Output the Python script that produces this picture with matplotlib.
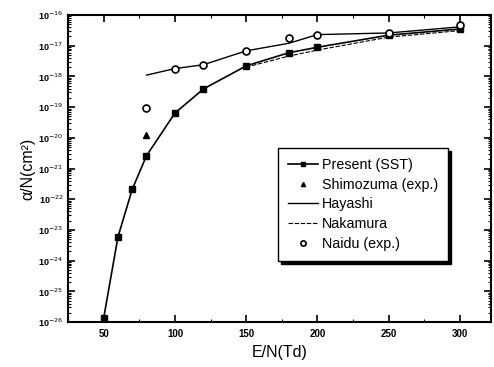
import matplotlib
matplotlib.use("Agg")
import matplotlib.pyplot as plt
from matplotlib.ticker import LogLocator, MultipleLocator, FixedLocator, NullFormatter
import numpy as np

plt.rcParams['font.family'] = ['Liberation Sans', 'DejaVu Sans']

# Present (SST)
sst_x = [50, 60, 70, 80, 100, 120, 150, 180, 200, 250, 300]
sst_y = [1.4e-26, 6e-24, 2.1e-22, 2.6e-21, 6.4e-20, 3.9e-19, 2.2e-18, 5.9e-18, 8.9e-18, 2.2e-17, 3.5e-17]
# Shimozuma (exp.)
shim_x = [80]
shim_y = [1.2e-20]
# Hayashi
hay_x = [80, 100, 120, 150, 180, 200, 250, 300]
hay_y = [1.1e-18, 1.8e-18, 2.4e-18, 6.8e-18, 1.2e-17, 2.3e-17, 2.6e-17, 4.1e-17]
# Nakamura
nak_x = [150, 180, 200, 250, 300]
nak_y = [2.0e-18, 4.6e-18, 7.2e-18, 1.9e-17, 3.1e-17]
# Naidu (exp.)
naidu_x = [80, 100, 120, 150, 180, 200, 250, 300]
naidu_y = [9.3e-20, 1.8e-18, 2.4e-18, 6.8e-18, 1.85e-17, 2.3e-17, 2.6e-17, 4.9e-17]

xticks = [50, 100, 150, 200, 250, 300]
yexp = list(range(-26, -15))

fig = plt.figure(figsize=(4.94, 3.67), dpi=100)
ax = fig.add_axes([0.138, 0.1226, 0.856, 0.8365])

ax.plot(sst_x, sst_y, '-', color='black', lw=1.2, marker='s', ms=4,
        mfc='black', mec='black', label='Present (SST)', zorder=4)
ax.plot(shim_x, shim_y, linestyle='none', marker='^', ms=4, color='black',
        label='Shimozuma (exp.)', zorder=5)
ax.plot(hay_x, hay_y, '-', color='black', lw=1.0, label='Hayashi', zorder=3)
ax.plot(nak_x, nak_y, linestyle=(0, (4, 1.5)), color='black', lw=0.8,
        label='Nakamura', zorder=3)
ax.plot(naidu_x, naidu_y, linestyle='none', marker='o', ms=5, mfc='white',
        mec='black', mew=1.2, label='Naidu (exp.)', zorder=6)

ax.set_yscale('log')
ax.set_xlim(25, 322)
ax.set_ylim(1e-26, 1e-16)

ax.xaxis.set_major_locator(FixedLocator(xticks))
ax.xaxis.set_minor_locator(MultipleLocator(25))
ax.set_xticklabels([str(v) for v in xticks])
ax.yaxis.set_major_locator(FixedLocator([10.0**e for e in yexp]))
ax.yaxis.set_minor_locator(LogLocator(base=10, subs=np.arange(2, 10), numticks=50))
ax.yaxis.set_minor_formatter(NullFormatter())
ax.set_yticklabels(['10$^{%d}$' % e for e in yexp])

ax.tick_params(which='both', direction='in', top=True, right=True)
ax.tick_params(which='major', length=5, width=1.2, labelsize=6.5)
ax.tick_params(which='minor', length=2.5, width=0.8)
ax.tick_params(axis='x', which='major', labelsize=7, pad=5)
for lab in ax.get_xticklabels() + ax.get_yticklabels():
    lab.set_fontweight('bold')
for s in ax.spines.values():
    s.set_linewidth(1.5)

ax.set_xlabel('E/N(Td)', fontsize=11.5, labelpad=4)
ax.set_ylabel('α/N(cm²)', fontsize=11.5, labelpad=2)

leg = ax.legend(loc='upper left', bbox_to_anchor=(0.4965, 0.567), fontsize=10.3,
                frameon=True, fancybox=False, shadow={'color': 'black', 'alpha': 1},
                edgecolor='black', handlelength=2.1, handletextpad=0.25,
                borderpad=0.7, borderaxespad=0, labelspacing=0.4, markerscale=0.75)
leg.get_frame().set_linewidth(1.0)

fig.savefig('out.png', dpi=100)
